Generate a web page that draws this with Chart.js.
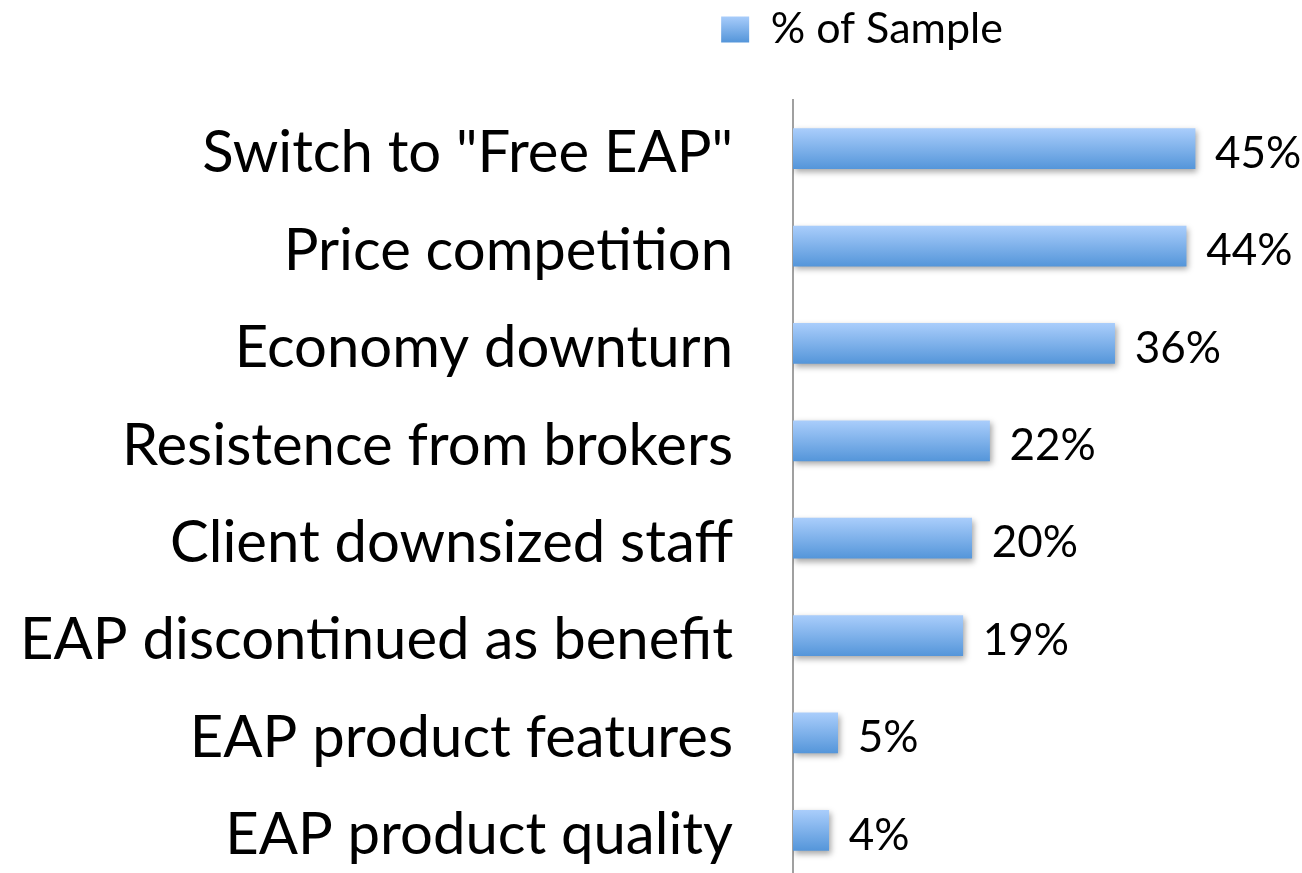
<!DOCTYPE html>
<html>
<head>
<meta charset="utf-8">
<script src="https://cdn.jsdelivr.net/npm/chart.js@4.4.1/dist/chart.umd.min.js"></script>
<style>
  html, body { margin: 0; padding: 0; background: #fff; overflow: hidden; }
  #wrap { width: 1302px; height: 873px; overflow: hidden; }
</style>
</head>
<body>
<div id="wrap"><canvas id="reasonsChart" width="1724" height="880"></canvas></div>
<script>
const categories = [
  'Switch to "Free EAP"',
  'Price competition',
  'Economy downturn',
  'Resistence from brokers',
  'Client downsized staff',
  'EAP discontinued as benefit',
  'EAP product features',
  'EAP product quality'
];
const sampleShare = [45, 44, 36, 22, 20, 19, 5, 4];
const seriesLabel = '% of Sample';

const FONT = 'Lato, "Open Sans", sans-serif';
const TOP_LIGHT = '#a9cdfb';
const BOTTOM_DARK = '#5596da';

// vertical gradient across one bar (or legend swatch)
function barGradient(ctx, top, bottom) {
  const g = ctx.createLinearGradient(0, top, 0, bottom);
  g.addColorStop(0, TOP_LIGHT);
  g.addColorStop(1, BOTTOM_DARK);
  return g;
}

// soft drop shadow under the bars
const barShadow = {
  id: 'barShadow',
  beforeDatasetsDraw(chart) {
    const ctx = chart.ctx;
    ctx.save();
    ctx.shadowColor = 'rgba(0,0,0,0.35)';
    ctx.shadowBlur = 6;
    ctx.shadowOffsetX = 2;
    ctx.shadowOffsetY = 3;
  },
  afterDatasetsDraw(chart) {
    chart.ctx.restore();
  }
};

// percentage text to the right of each bar
const valueLabels = {
  id: 'valueLabels',
  afterDraw(chart) {
    const ctx = chart.ctx;
    const meta = chart.getDatasetMeta(0);
    ctx.save();
    ctx.font = '44px ' + FONT;
    ctx.fillStyle = '#000';
    ctx.textAlign = 'left';
    ctx.textBaseline = 'middle';
    meta.data.forEach((bar, i) => {
      ctx.fillText(sampleShare[i] + '%', bar.x + 20, bar.y + 5);
    });
    ctx.restore();
  }
};

new Chart(document.getElementById('reasonsChart'), {
  type: 'bar',
  data: {
    labels: categories,
    datasets: [{
      label: seriesLabel,
      data: sampleShare,
      barThickness: 40,
      borderWidth: 0,
      backgroundColor: (c) => {
        const chart = c.chart;
        if (!chart.chartArea || c.dataIndex === undefined) return BOTTOM_DARK;
        const y = chart.scales.y.getPixelForValue(c.dataIndex);
        return barGradient(chart.ctx, y - 20, y + 20);
      }
    }]
  },
  options: {
    indexAxis: 'y',
    responsive: false,
    animation: false,
    layout: { padding: { top: 0, bottom: 1, left: 0, right: 0 } },
    plugins: {
      tooltip: { enabled: false },
      legend: {
        position: 'top',
        align: 'center',
        labels: {
          boxWidth: 28,
          boxHeight: 26,
          padding: 8,
          color: '#000',
          font: { family: FONT, size: 43 },
          generateLabels(chart) {
            return [{
              text: seriesLabel,
              fillStyle: barGradient(chart.ctx, 16, 42),
              strokeStyle: 'rgba(0,0,0,0)',
              lineWidth: 0,
              datasetIndex: 0
            }];
          }
        }
      }
    },
    scales: {
      x: {
        position: 'top',
        min: 0,
        max: 104.2,
        grid: { display: false, drawTicks: false },
        border: { display: false },
        ticks: { display: false },
        afterFit(s) { s.height = 39; }
      },
      y: {
        grid: { display: false, drawTicks: false },
        border: { display: true, color: '#a0a0a0', width: 2 },
        ticks: {
          color: '#000',
          padding: 60,
          labelOffset: 5,
          font: { family: FONT, size: 58 }
        },
        afterFit(s) {
          s.width = 793;
          s.paddingTop = 0;
          s.paddingBottom = 0;
        }
      }
    }
  },
  plugins: [barShadow, valueLabels]
});
</script>
</body>
</html>
